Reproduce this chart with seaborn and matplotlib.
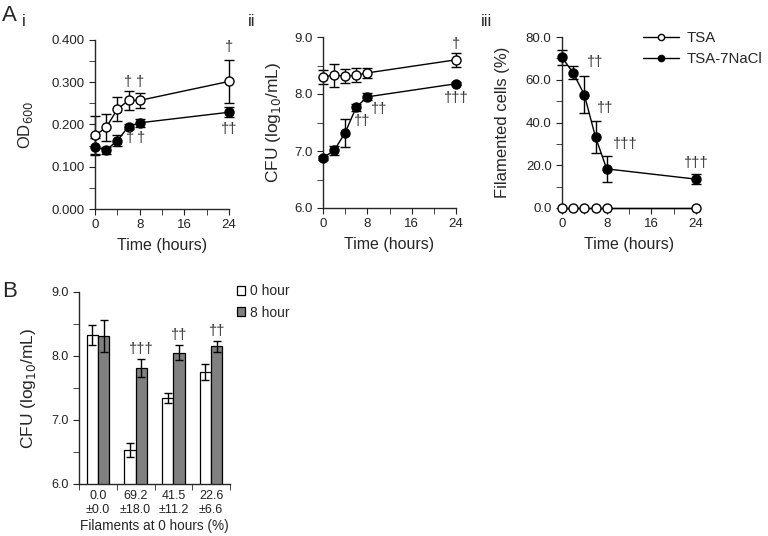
import numpy as np
import pandas as pd
import matplotlib
matplotlib.use("Agg")
import matplotlib.pyplot as plt
from matplotlib.lines import Line2D
from matplotlib.patches import Patch
from matplotlib.ticker import MultipleLocator, FormatStrFormatter
import seaborn as sns

# time course data (panel A)
hours = [0, 2, 4, 6, 8, 24]

od_tsa = [0.174, 0.193, 0.236, 0.257, 0.257, 0.302]
od_tsa_err = [0.045, 0.032, 0.028, 0.022, 0.018, 0.050]
od_nacl = [0.147, 0.139, 0.162, 0.195, 0.204, 0.229]
od_nacl_err = [0.020, 0.008, 0.012, 0.006, 0.010, 0.012]

cfu_tsa = [8.30, 8.33, 8.31, 8.33, 8.37, 8.60]
cfu_tsa_err = [0.12, 0.20, 0.12, 0.12, 0.09, 0.12]
cfu_nacl = [6.88, 7.01, 7.32, 7.77, 7.95, 8.18]
cfu_nacl_err = [0.03, 0.08, 0.25, 0.06, 0.06, 0.03]

fil_tsa = [0.0, 0.0, 0.0, 0.0, 0.0, 0.0]
fil_nacl = [70.5, 63.2, 53.0, 33.2, 18.3, 13.5]
fil_nacl_err = [3.5, 3.0, 8.7, 7.4, 6.0, 2.3]

# panel B data
groups = ["0.0\n±0.0", "69.2\n±18.0", "41.5\n±11.2", "22.6\n±6.6"]
cfu_0h = [8.33, 6.53, 7.34, 7.75]
cfu_0h_err = [0.16, 0.11, 0.08, 0.13]
cfu_8h = [8.32, 7.81, 8.05, 8.15]
cfu_8h_err = [0.25, 0.14, 0.12, 0.08]
bar_marks = ["", "†††", "††", "††"]

sns.set_style("ticks")
plt.rcParams["font.family"] = ["Liberation Sans", "DejaVu Sans"]
plt.rcParams["axes.linewidth"] = 1.0
plt.rcParams["xtick.major.size"] = 4
plt.rcParams["ytick.major.size"] = 4
plt.rcParams["xtick.minor.size"] = 4
plt.rcParams["ytick.minor.size"] = 4

fig = plt.figure(figsize=(7.68, 5.36), dpi=100)
W, H = 768, 536


def add_ax(left, top, right, bottom):
    return fig.add_axes([left / W, 1 - bottom / H, (right - left) / W, (bottom - top) / H])


def series(ax, y, err, filled):
    face = "black" if filled else "white"
    if err is not None:
        ax.errorbar(hours, y, yerr=err, fmt="none", ecolor="black", elinewidth=1,
                    capsize=3.5, capthick=1, clip_on=False, zorder=2)
    sns.lineplot(x=hours, y=y, ax=ax, color="black", linewidth=1, marker="o",
                 markersize=6.5, markerfacecolor=face, markeredgecolor="black",
                 markeredgewidth=1, clip_on=False, zorder=3)


def time_axis(ax):
    ax.set_xlim(0, 24)
    ax.set_xticks([0, 8, 16, 24])
    ax.xaxis.set_minor_locator(MultipleLocator(4))
    ax.set_xlabel("Time (hours)", fontsize=11.5)
    ax.xaxis.set_label_coords(0.5, -0.17)
    ax.tick_params(labelsize=9.5, colors="#222222")
    sns.despine(ax=ax)


def dag(ax, x, y, s):
    ax.text(x, y, s, ha="center", va="center", fontsize=10.5, color="#333333")


# panel i
ax1 = add_ax(95, 40, 229, 209)
series(ax1, od_tsa, od_tsa_err, False)
series(ax1, od_nacl, od_nacl_err, True)
ax1.set_ylim(0, 0.4)
ax1.yaxis.set_major_locator(MultipleLocator(0.1))
ax1.yaxis.set_minor_locator(MultipleLocator(0.05))
ax1.yaxis.set_major_formatter(FormatStrFormatter("%.3f"))
ax1.set_ylabel("OD$_{600}$", fontsize=12)
ax1.yaxis.set_label_coords(-0.45, 0.5)
time_axis(ax1)
dag(ax1, 6, 0.300, "†")
dag(ax1, 8, 0.300, "†")
dag(ax1, 24, 0.383, "†")
dag(ax1, 6.2, 0.167, "†")
dag(ax1, 8.2, 0.167, "†")
dag(ax1, 24, 0.190, "††")

# panel ii
ax2 = add_ax(323, 37, 456, 208)
series(ax2, cfu_tsa, cfu_tsa_err, False)
series(ax2, cfu_nacl, cfu_nacl_err, True)
ax2.set_ylim(6, 9)
ax2.yaxis.set_major_locator(MultipleLocator(1))
ax2.yaxis.set_minor_locator(MultipleLocator(0.5))
ax2.yaxis.set_major_formatter(FormatStrFormatter("%.1f"))
ax2.set_ylabel("CFU (log$_{10}$/mL)", fontsize=12.5)
ax2.yaxis.set_label_coords(-0.30, 0.5)
time_axis(ax2)
dag(ax2, 24, 8.88, "†")
dag(ax2, 7.0, 7.52, "††")
dag(ax2, 10.2, 7.74, "††")
dag(ax2, 24, 7.93, "†††")

# panel iii
ax3 = add_ax(562, 37, 696, 208)
series(ax3, fil_tsa, None, False)
series(ax3, fil_nacl, fil_nacl_err, True)
ax3.set_ylim(0, 80)
ax3.yaxis.set_major_locator(MultipleLocator(20))
ax3.yaxis.set_minor_locator(MultipleLocator(10))
ax3.yaxis.set_major_formatter(FormatStrFormatter("%.1f"))
ax3.set_ylabel("Filamented cells (%)", fontsize=12)
ax3.yaxis.set_label_coords(-0.39, 0.5)
time_axis(ax3)
dag(ax3, 5.9, 68.5, "††")
dag(ax3, 7.7, 46.8, "††")
dag(ax3, 11.4, 29.8, "†††")
dag(ax3, 24, 21.2, "†††")

handles = [
    Line2D([], [], color="black", lw=1, marker="o", markersize=4.5, markerfacecolor="white"),
    Line2D([], [], color="black", lw=1, marker="o", markersize=4.5, markerfacecolor="black"),
]
fig.legend(handles, ["TSA", "TSA-7NaCl"], loc="upper left", bbox_to_anchor=(643 / W, 1 - 31 / H),
           frameon=False, fontsize=10.8, handlelength=2.4, handletextpad=0.5, labelspacing=0.45,
           borderaxespad=0, borderpad=0)

# panel B
axb = add_ax(79, 292, 230, 484)
df = pd.DataFrame({
    "group": groups * 2,
    "cfu": cfu_0h + cfu_8h,
    "time": ["0 hour"] * 4 + ["8 hour"] * 4,
})
sns.barplot(data=df, x="group", y="cfu", hue="time", order=groups,
            palette={"0 hour": "white", "8 hour": "#808080"}, edgecolor="black",
            linewidth=0.9, width=0.6, errorbar=None, legend=False, ax=axb)
xs = np.arange(len(groups))
axb.errorbar(xs - 0.15, cfu_0h, yerr=cfu_0h_err, fmt="none", ecolor="black",
             elinewidth=1, capsize=3, capthick=1)
axb.errorbar(xs + 0.15, cfu_8h, yerr=cfu_8h_err, fmt="none", ecolor="black",
             elinewidth=1, capsize=3, capthick=1)
for x, top, e, s in zip(xs, cfu_8h, cfu_8h_err, bar_marks):
    if s:
        axb.text(x + 0.15, top + e + 0.16, s, ha="center", va="center", fontsize=10.5, color="#333333")
axb.set_xlim(-0.5, len(groups) - 0.5)
axb.set_ylim(6, 9)
axb.yaxis.set_major_locator(MultipleLocator(1))
axb.yaxis.set_minor_locator(MultipleLocator(0.5))
axb.yaxis.set_major_formatter(FormatStrFormatter("%.1f"))
axb.set_xticks(xs)
axb.set_xticklabels(groups, linespacing=1.3)
axb.tick_params(axis="x", which="major", length=0, pad=4)
axb.set_xticks(np.arange(len(groups) + 1) - 0.5, minor=True)
axb.tick_params(labelsize=9, colors="#222222")
axb.set_xlabel("Filaments at 0 hours (%)", fontsize=9.8)
axb.xaxis.set_label_coords(0.5, -0.18)
axb.set_ylabel("CFU (log$_{10}$/mL)", fontsize=12.5)
axb.yaxis.set_label_coords(-0.27, 0.5)
sns.despine(ax=axb)

bhandles = [Patch(facecolor="white", edgecolor="black", lw=0.9),
            Patch(facecolor="#808080", edgecolor="black", lw=0.9)]
fig.legend(bhandles, ["0 hour", "8 hour"], loc="upper left", bbox_to_anchor=(237 / W, 1 - 284 / H),
           frameon=False, fontsize=10, handlelength=0.6, handleheight=0.6, handletextpad=0.35,
           labelspacing=0.55, borderaxespad=0, borderpad=0)

# panel letters
fig.text(2 / W, 1 - 21 / H, "A", fontsize=16, va="baseline")
fig.text(22 / W, 1 - 26 / H, "i", fontsize=12, va="baseline")
fig.text(248 / W, 1 - 26 / H, "ii", fontsize=12, va="baseline")
fig.text(481 / W, 1 - 26 / H, "iii", fontsize=12, va="baseline")
fig.text(2 / W, 1 - 297 / H, "B", fontsize=16, va="baseline")

fig.savefig("out.png", dpi=100)
